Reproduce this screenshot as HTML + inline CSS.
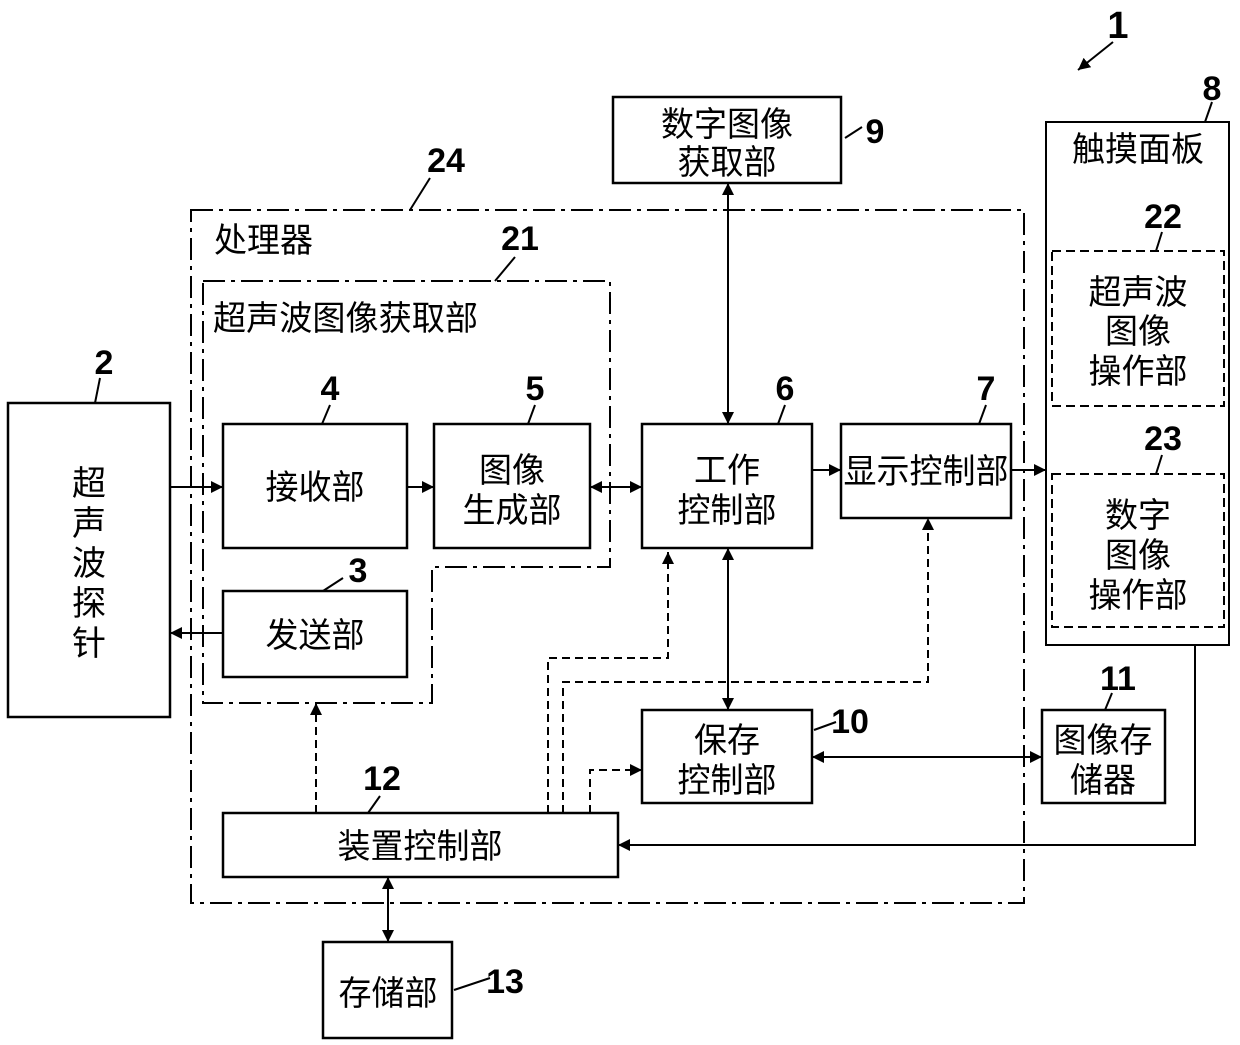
<!DOCTYPE html>
<html><head><meta charset="utf-8"><style>
html,body{margin:0;padding:0;background:#fff;}
svg{display:block}
text{font-family:"Liberation Sans","Noto Sans CJK SC",sans-serif;fill:#000;}
.c{font-size:34px;text-anchor:middle}
.l{font-size:34px}
.n{font-size:34px;font-weight:bold;text-anchor:middle}
</style></head><body>
<svg width="1240" height="1045" viewBox="0 0 1240 1045" xmlns="http://www.w3.org/2000/svg">
<defs>
<marker id="a" viewBox="0 0 10 10" refX="10" refY="5" markerWidth="12" markerHeight="12" markerUnits="userSpaceOnUse" orient="auto-start-reverse"><path d="M0,0L10,5L0,10z" fill="#000"/></marker>
</defs>
<g fill="none" stroke="#000" stroke-width="2.5">
<rect x="191" y="210" width="833" height="693" stroke-dasharray="22,6,4,6" stroke-width="2"/>
<path d="M203,281H610V567H432V703H203Z" stroke-dasharray="22,6,4,6" stroke-width="2"/>
<rect x="8" y="403" width="162" height="314"/>
<rect x="223" y="424" width="184" height="124"/>
<rect x="434" y="424" width="156" height="124"/>
<rect x="223" y="591" width="184" height="86"/>
<rect x="642" y="424" width="170" height="124"/>
<rect x="841" y="424" width="170" height="94"/>
<rect x="613" y="97" width="228" height="86"/>
<rect x="1046" y="122" width="183" height="523" stroke-width="2"/>
<rect x="1052" y="251" width="172" height="155" stroke-dasharray="9,5" stroke-width="2"/>
<rect x="1052" y="474" width="172" height="153" stroke-dasharray="9,5" stroke-width="2"/>
<rect x="642" y="710" width="170" height="93"/>
<rect x="1042" y="710" width="123" height="93"/>
<rect x="223" y="813" width="395" height="64"/>
<rect x="323" y="942" width="129" height="96"/>
</g>
<g fill="none" stroke="#000" stroke-width="2">
<line x1="170" y1="487" x2="223" y2="487" marker-end="url(#a)"/>
<line x1="407" y1="487" x2="434" y2="487" marker-end="url(#a)"/>
<line x1="590" y1="487" x2="642" y2="487" marker-start="url(#a)" marker-end="url(#a)"/>
<line x1="812" y1="470" x2="841" y2="470" marker-end="url(#a)"/>
<line x1="1011" y1="470" x2="1046" y2="470" marker-end="url(#a)"/>
<line x1="223" y1="633" x2="170" y2="633" marker-end="url(#a)"/>
<line x1="728" y1="183" x2="728" y2="424" marker-start="url(#a)" marker-end="url(#a)"/>
<line x1="728" y1="548" x2="728" y2="710" marker-start="url(#a)" marker-end="url(#a)"/>
<line x1="812" y1="757" x2="1042" y2="757" marker-start="url(#a)" marker-end="url(#a)"/>
<line x1="388" y1="877" x2="388" y2="942" marker-start="url(#a)" marker-end="url(#a)"/>
<path d="M1195,645V845H618" marker-end="url(#a)"/>
<g stroke-dasharray="8,5">
<path d="M316,813V703" marker-end="url(#a)"/>
<path d="M548,813V658H668V552" marker-end="url(#a)"/>
<path d="M563,813V682H928V518" marker-end="url(#a)"/>
<path d="M590,813V770H642" marker-end="url(#a)"/>
</g>
<path d="M1113,42L1078,70" marker-end="url(#a)"/>
<line x1="1212" y1="102" x2="1205" y2="122"/>
<line x1="862" y1="127" x2="845" y2="138"/>
<line x1="430" y1="178" x2="410" y2="210"/>
<line x1="515" y1="257" x2="495" y2="281"/>
<line x1="100" y1="378" x2="95" y2="403"/>
<line x1="330" y1="405" x2="322" y2="424"/>
<line x1="535" y1="405" x2="528" y2="424"/>
<line x1="785" y1="405" x2="778" y2="424"/>
<line x1="986" y1="405" x2="979" y2="424"/>
<line x1="1162" y1="232" x2="1156" y2="251"/>
<line x1="1162" y1="455" x2="1156" y2="474"/>
<line x1="343" y1="578" x2="323" y2="591"/>
<line x1="836" y1="722" x2="814" y2="730"/>
<line x1="1112" y1="693" x2="1105" y2="710"/>
<line x1="380" y1="796" x2="368" y2="813"/>
<line x1="490" y1="978" x2="454" y2="990"/>
</g>
<g class="n">
<text x="1118" y="38" font-size="38">1</text>
<text x="1212" y="100">8</text>
<text x="875" y="143">9</text>
<text x="446" y="172">24</text>
<text x="520" y="250">21</text>
<text x="104" y="374">2</text>
<text x="330" y="400">4</text>
<text x="535" y="400">5</text>
<text x="785" y="400">6</text>
<text x="986" y="400">7</text>
<text x="1163" y="228">22</text>
<text x="1163" y="450">23</text>
<text x="358" y="582">3</text>
<text x="850" y="733">10</text>
<text x="1118" y="690">11</text>
<text x="382" y="790">12</text>
<text x="505" y="993">13</text>
</g>
<g class="c">
<text x="727" y="136" textLength="132" lengthAdjust="spacingAndGlyphs">数字图像</text>
<text x="727" y="174" textLength="99" lengthAdjust="spacingAndGlyphs">获取部</text>
<text x="1138" y="161" textLength="132" lengthAdjust="spacingAndGlyphs">触摸面板</text>
<text x="1138" y="304" textLength="99" lengthAdjust="spacingAndGlyphs">超声波</text>
<text x="1138" y="343" textLength="66" lengthAdjust="spacingAndGlyphs">图像</text>
<text x="1138" y="383" textLength="99" lengthAdjust="spacingAndGlyphs">操作部</text>
<text x="1138" y="527" textLength="66" lengthAdjust="spacingAndGlyphs">数字</text>
<text x="1138" y="567" textLength="66" lengthAdjust="spacingAndGlyphs">图像</text>
<text x="1138" y="607" textLength="99" lengthAdjust="spacingAndGlyphs">操作部</text>
<text x="89" y="495">超</text>
<text x="89" y="535">声</text>
<text x="89" y="575">波</text>
<text x="89" y="615">探</text>
<text x="89" y="655">针</text>
<text x="315" y="499" textLength="99" lengthAdjust="spacingAndGlyphs">接收部</text>
<text x="512" y="482" textLength="66" lengthAdjust="spacingAndGlyphs">图像</text>
<text x="512" y="522" textLength="99" lengthAdjust="spacingAndGlyphs">生成部</text>
<text x="727" y="482" textLength="66" lengthAdjust="spacingAndGlyphs">工作</text>
<text x="727" y="522" textLength="99" lengthAdjust="spacingAndGlyphs">控制部</text>
<text x="926" y="483" textLength="165" lengthAdjust="spacingAndGlyphs">显示控制部</text>
<text x="315" y="647" textLength="99" lengthAdjust="spacingAndGlyphs">发送部</text>
<text x="727" y="752" textLength="66" lengthAdjust="spacingAndGlyphs">保存</text>
<text x="727" y="792" textLength="99" lengthAdjust="spacingAndGlyphs">控制部</text>
<text x="1103" y="752" textLength="99" lengthAdjust="spacingAndGlyphs">图像存</text>
<text x="1103" y="792" textLength="66" lengthAdjust="spacingAndGlyphs">储器</text>
<text x="420" y="858" textLength="165" lengthAdjust="spacingAndGlyphs">装置控制部</text>
<text x="388" y="1005" textLength="99" lengthAdjust="spacingAndGlyphs">存储部</text>
</g>
<g class="l">
<text x="214" y="252" textLength="99" lengthAdjust="spacingAndGlyphs">处理器</text>
<text x="213" y="330" textLength="265" lengthAdjust="spacingAndGlyphs">超声波图像获取部</text>
</g>
</svg>
</body></html>
